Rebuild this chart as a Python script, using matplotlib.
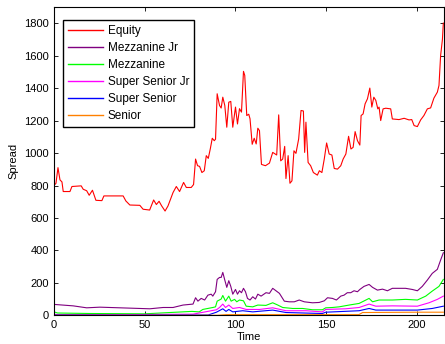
import numpy as np
import matplotlib
matplotlib.use("Agg")
import matplotlib.pyplot as plt

plt.rcParams['font.family'] = ['Liberation Sans', 'DejaVu Sans']

# values (time, spread)
equity_t = [0, 1.1, 2.2, 3.3, 4.4, 5.1, 8.8, 9.9, 15, 16.1, 18, 19.4, 21.2, 23.1, 26.4, 27.5,
            38.1, 39.6, 41.8, 47.3, 49.1, 52.7, 54.9, 56.4, 57.9, 59.3, 61.2, 62.8, 65.6, 67.4,
            69.2, 71.4, 72.9, 75.6, 76.9, 78, 79.1, 80.2, 81.5, 82.8, 83.9, 85, 86.1, 87.2,
            88.3, 89, 89.9, 91.2, 92.1, 93, 94.1, 95.2, 96.3, 97.4, 98.5, 100, 101.1, 102.2,
            103.3, 104.4, 105.1, 106.2, 107.3, 108, 109.2, 110.3, 111.4, 112.3, 113.2, 114.3,
            116.5, 118.7, 120.5, 122.7, 123.8, 124.9, 126, 127.1, 127.8, 129, 130, 131.1,
            132.2, 133.3, 134.8, 136.1, 137.4, 138.1, 138.8, 140, 141.4, 142.9, 145.1, 146.2,
            147.6, 148.9, 150.2, 151.6, 153.1, 154.4, 156.2, 158, 159.3, 160.8, 162.3, 163.6,
            164.8, 165.9, 167.2, 168.5, 169.2, 170.3, 171.4, 172.7, 174, 175.1, 176.2, 177.3,
            178.4, 179.1, 180, 181.3, 182.8, 185.5, 186.4, 190.1, 192.9, 195.6, 197.1, 198.4,
            200.2, 202, 203.8, 205.7, 207.5, 209.3, 211.2, 212.1, 213, 213.5, 214, 214.5]
equity = [800, 814, 910, 835, 822, 763, 763, 794, 798, 777, 768, 740, 771, 709, 707, 736,
          736, 705, 680, 678, 654, 649, 711, 683, 703, 675, 643, 674, 757, 794,
          763, 819, 788, 788, 806, 963, 922, 918, 880, 891, 984, 967, 1025, 1091,
          1076, 1085, 1365, 1293, 1277, 1344, 1293, 1159, 1313, 1318, 1159, 1283, 1179, 1273,
          1252, 1503, 1478, 1231, 1239, 1211, 1054, 1091, 1056, 1153, 1138, 930,
          922, 938, 1004, 988, 1235, 952, 963, 1041, 843, 984, 814, 829,
          1014, 998, 1087, 1262, 1259, 1004, 1190, 942, 922, 880, 864, 891,
          880, 963, 1062, 994, 988, 905, 901, 922, 963, 994, 1103, 1025,
          1035, 1132, 1076, 1049, 1231, 1241, 1303, 1334, 1400, 1283, 1344, 1324,
          1272, 1283, 1200, 1272, 1276, 1272, 1210, 1206, 1214, 1204, 1206, 1169,
          1163, 1204, 1231, 1272, 1278, 1338, 1375, 1416, 1600, 1650, 1700, 1800]

mezz_jr_t = [0, 10.6, 18, 25.3, 36.3, 47.3, 52.8, 60.1, 65.6, 71.1, 76.6, 78, 79.3, 81.1, 83,
             84.8, 86.6, 87.5, 89, 89.9, 91.2, 92.1, 93, 94.1, 95.2, 96.3, 97.4, 98.5, 100,
             101.1, 102.2, 103.3, 104.4, 105.5, 106.6, 108, 109.5, 111, 112.3, 114.1, 116.8,
             118.7, 120.5, 122.3, 124.2, 126.9, 129.6, 132.4, 135.1, 137.9, 142.4, 146.1,
             148.9, 150.7, 153.4, 155.6, 158, 159.8, 161.6, 163.5, 165.3, 167.2, 168.5, 170.8,
             173.6, 175.5, 178.2, 181, 183.7, 186.4, 190.1, 193.7, 197.4, 200.2, 202.9, 205.7,
             208.4, 211.2, 213, 214.5]
mezz_jr = [68, 59, 47, 51, 47, 43, 41, 49, 49, 64, 70, 109, 88, 105, 95,
           125, 131, 119, 146, 222, 234, 234, 265, 218, 173, 214, 179, 131, 160,
           131, 152, 140, 167, 146, 105, 95, 115, 101, 131, 119, 140,
           136, 167, 152, 136, 88, 84, 84, 95, 84, 78, 80,
           90, 109, 105, 95, 119, 125, 140, 140, 152, 146, 160, 179,
           191, 173, 156, 162, 152, 167, 167, 167, 160, 152, 179, 218,
           259, 284, 341, 386]

mezz_t = [0, 2, 20, 50, 76, 80, 82, 87.5, 89, 89.9, 92.1, 93, 94.5, 96.3, 97.6, 99.5, 100.7,
          102.2, 104.4, 105.9, 109.5, 112.3, 116.8, 120.5, 123.3, 126, 131.5, 137, 142.4,
          147.9, 149.7, 153.4, 157.1, 162.6, 168.1, 173.6, 175.5, 179.1, 186.4, 193.7, 200.2,
          204.8, 208.4, 212.1, 214.5]
mezz = [22, 15, 12, 10, 25, 22, 37, 49, 53, 88, 101, 123, 88, 119, 88, 99, 84,
        95, 90, 57, 53, 64, 62, 78, 64, 49, 43, 43, 35,
        35, 47, 49, 53, 64, 74, 105, 84, 95, 95, 99, 95,
        119, 150, 179, 222]

ss_jr_t = [0, 2, 40, 76.6, 89.5, 91.2, 93, 94.5, 96.3, 98.5, 102.2, 105.9, 113.2, 120.5, 127.8,
           138.8, 147.9, 149.7, 160.7, 168.1, 173.6, 177.3, 186.4, 200.2, 206.6, 211.2, 214.5]
ss_jr = [8, 5, 5, 8, 35, 49, 70, 49, 64, 43, 49, 37, 37, 47, 29,
         29, 22, 37, 41, 49, 70, 57, 59, 57, 78, 99, 119]

ss_t = [0, 40, 85, 89.5, 93, 94.8, 96.3, 98.5, 104, 109.5, 120.5, 127.8, 147.9, 149.7, 168.1,
        173.6, 177.3, 200.2, 208.4, 214.5]
ss = [3, 2, 3, 20, 41, 25, 37, 22, 29, 22, 33, 18, 12, 20, 29,
      43, 33, 33, 43, 57]

senior_t = [0, 90, 95, 120, 168, 170, 200.2, 212, 214.5]
senior = [1, 1, 5, 5, 5, 18, 20, 20, 20]

series = [
    ("Equity", equity_t, equity, (1, 0, 0)),
    ("Mezzanine Jr", mezz_jr_t, mezz_jr, (0.5, 0, 0.5)),
    ("Mezzanine", mezz_t, mezz, (0, 1, 0)),
    ("Super Senior Jr", ss_jr_t, ss_jr, (1, 0, 1)),
    ("Super Senior", ss_t, ss, (0, 0, 1)),
    ("Senior", senior_t, senior, (1, 0.5, 0)),
]

fig = plt.figure(figsize=(4.45, 3.44), dpi=100)
ax = fig.add_axes([0.1213, 0.083, 0.877, 0.897])

for name, t, v, c in series:
    ax.plot(t, v, color=c, lw=0.8, label=name)

ax.set_xlim(0, 215)
ax.set_ylim(0, 1900)
ax.set_xticks([0, 50, 100, 150, 200])
ax.set_yticks(np.arange(0, 1801, 200))
ax.tick_params(direction='in', top=True, right=True, labelsize=8, length=3, width=0.6)
for s in ax.spines.values():
    s.set_linewidth(0.8)

ax.set_xlabel("Time", fontsize=8, labelpad=1)
ax.set_ylabel("Spread", fontsize=8, labelpad=4)

leg = ax.legend(loc='upper left', bbox_to_anchor=(0.008, 0.975), fontsize=8.5, fancybox=False,
                edgecolor='black', framealpha=1, handlelength=3.0, borderpad=0.4,
                labelspacing=0.42, handletextpad=0.4)
leg.get_frame().set_linewidth(1.0)
for line in leg.get_lines():
    line.set_linewidth(1.0)

fig.savefig("out.png", dpi=100)
